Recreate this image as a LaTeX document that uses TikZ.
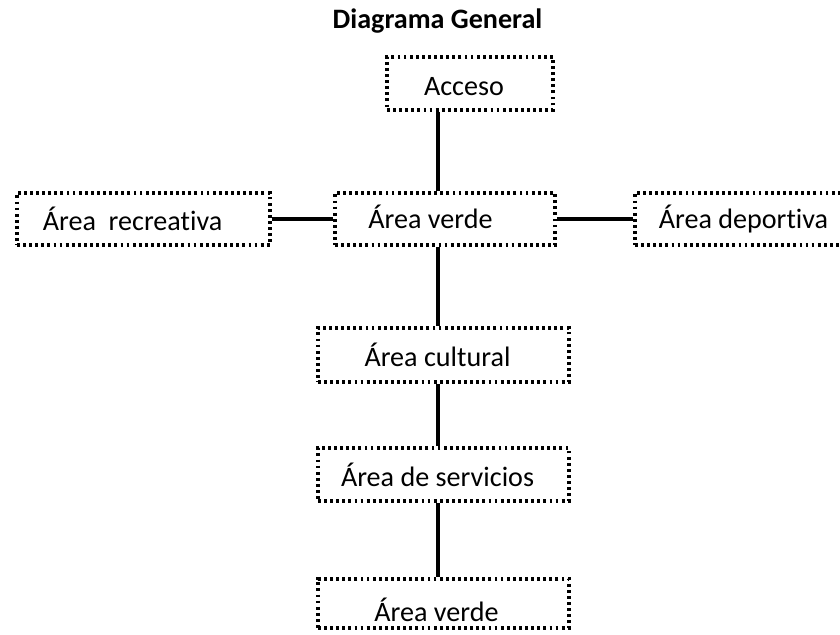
\documentclass[tikz,border=0pt]{standalone}
\usepackage{fontspec}
\setmainfont{Carlito}[Ligatures=NoCommon]
\usetikzlibrary{positioning}

\begin{document}
\begin{tikzpicture}[x=0.03cm, y=-0.03cm,
    zona/.style={draw, line width=3pt, dash pattern=on 2.4pt off 2.8pt,
        inner sep=0pt, font=\fontsize{24}{28}\selectfont},
    enlace/.style={line width=2.6pt}]
    \useasboundingbox (0,0) rectangle (840,634);
    \node[font=\bfseries\fontsize{24}{28}\selectfont] (titulo) at (437.5,21) {Diagrama General};

    \node[zona, minimum width=166*0.03cm, minimum height=53*0.03cm,
          label={[xshift=-6*0.03cm, yshift=-3*0.03cm, font=\fontsize{24}{28}\selectfont]center:Acceso}]
          (acceso) at (470,83.5) {};
    \node[zona, minimum width=220*0.03cm, minimum height=52*0.03cm,
          label={[xshift=-14.5*0.03cm, yshift=2*0.03cm, font=\fontsize{24}{28}\selectfont]center:Área verde}]
          (verde) at (445,219) {};
    \node[zona, minimum width=253*0.03cm, minimum height=52*0.03cm,
          label={[xshift=-11*0.03cm, font=\fontsize{24}{28}\selectfont]center:Área\ \ recreativa}]
          (recreativa) at (143.5,219) {};
    \node[zona, minimum width=220*0.03cm, minimum height=52*0.03cm,
          label={[xshift=-1.5*0.03cm, font=\fontsize{24}{28}\selectfont]center:Área deportiva}]
          (deportiva) at (745,219) {};
    \node[zona, minimum width=251*0.03cm, minimum height=54*0.03cm,
          label={[xshift=-6*0.03cm, font=\fontsize{24}{28}\selectfont]center:Área cultural}]
          (cultural) at (443.5,355) {};
    \node[zona, minimum width=251*0.03cm, minimum height=53*0.03cm,
          label={[xshift=-6*0.03cm, font=\fontsize{24}{28}\selectfont]center:Área de servicios}]
          (servicios) at (443.5,474.5) {};
    \node[zona, minimum width=251*0.03cm, minimum height=49*0.03cm,
          label={[xshift=-7*0.03cm, yshift=-6*0.03cm, font=\fontsize{24}{28}\selectfont]center:Área verde}]
          (verdeb) at (443.5,603.5) {};

    % eje vertical
    \coordinate (eje) at (438,0);
    \draw[enlace] (acceso.south -| eje) -- (verde.north -| eje);
    \draw[enlace] (verde.south -| eje) -- (cultural.north -| eje);
    \draw[enlace] (cultural.south -| eje) -- (servicios.north -| eje);
    \draw[enlace] (servicios.south -| eje) -- (verdeb.north -| eje);
    % ramas laterales
    \draw[enlace] (recreativa.east) -- (verde.west);
    \draw[enlace] (verde.east) -- (deportiva.west);
\end{tikzpicture}
\end{document}
